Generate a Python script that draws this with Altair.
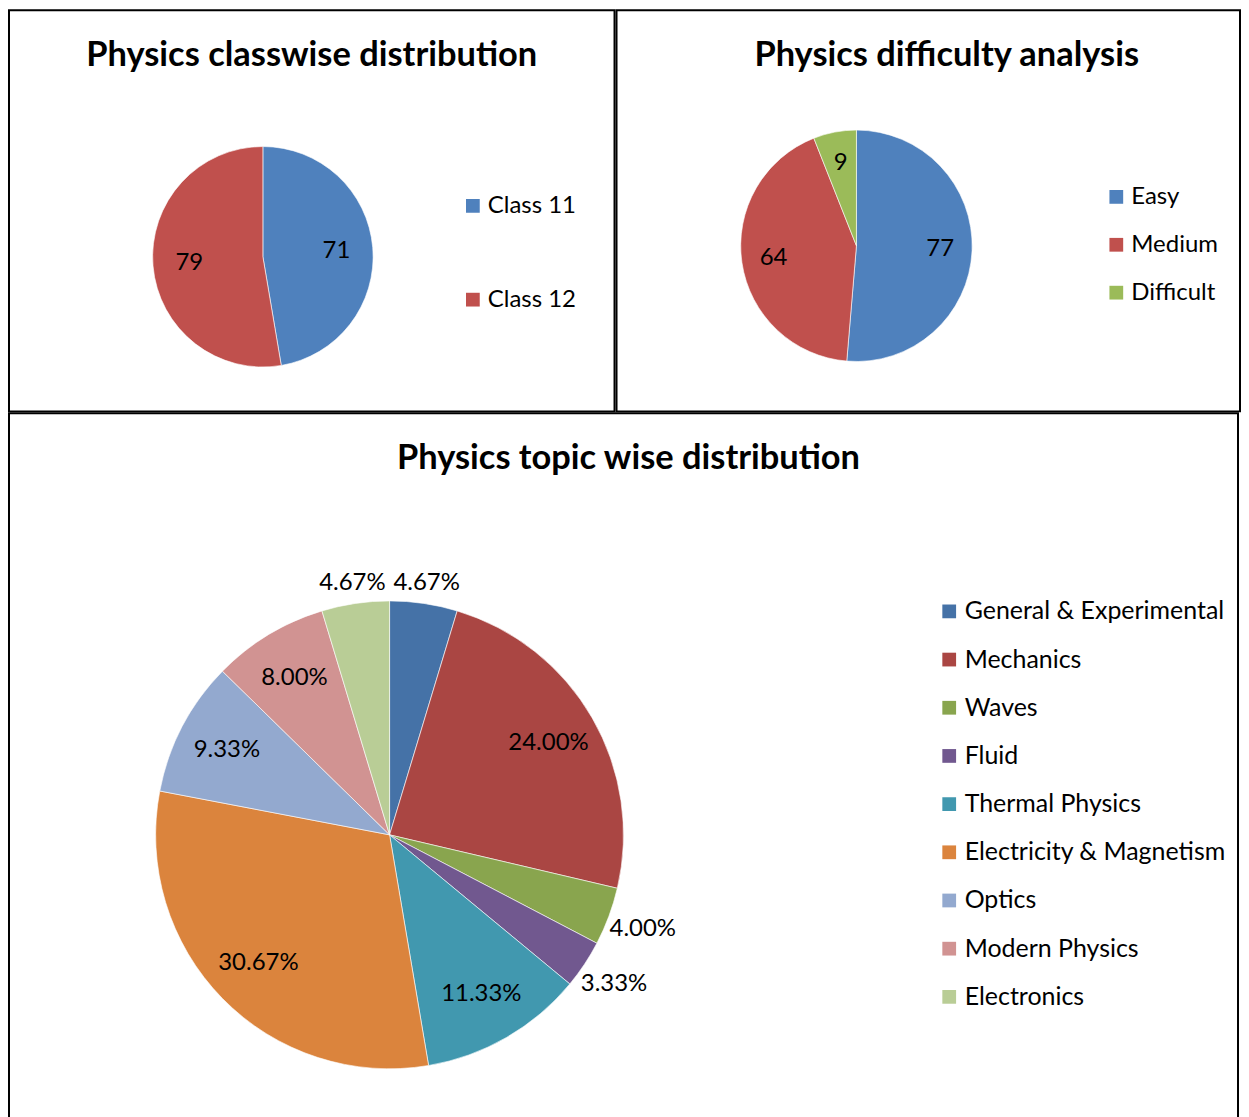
import altair as alt
import pandas as pd

# ---- data ----
class_labels = ["Class 11", "Class 12"]
class_values = [71, 79]

diff_labels = ["Easy", "Medium", "Difficult"]
diff_values = [77, 64, 9]

topic_labels = ["General & Experimental", "Mechanics", "Waves", "Fluid", "Thermal Physics",
                "Electricity & Magnetism", "Optics", "Modern Physics", "Electronics"]
topic_values = [7, 36, 6, 5, 17, 46, 14, 12, 7]

class_colors = ["#4F81BD", "#C0504D"]
diff_colors = ["#4F81BD", "#C0504D", "#9BBB59"]
topic_colors = ["#4572A7", "#AA4643", "#89A54E", "#71588F", "#4198AF",
                "#DB843D", "#93A9CF", "#D19392", "#B9CD96"]

FONT = "Lato"
LBL = 24


def pie_panel(labels, values, colors, title, w, h, cx, cy, R, r_in, thresh,
              lx, ly, row_pad, leg_fs, title_x, title_y, pct_fmt):
    df = pd.DataFrame({"cat": labels, "value": values, "idx": list(range(len(labels)))})
    legend = alt.Legend(
        title=None, orient="none", legendX=lx, legendY=ly,
        symbolType="square", symbolSize=190, symbolStrokeWidth=0,
        labelFont=FONT, labelFontSize=leg_fs, labelColor="black", labelOffset=3,
        rowPadding=row_pad, labelLimit=500,
    )
    arc = alt.Chart(df).mark_arc(outerRadius=R, stroke="white", strokeWidth=0.6).encode(
        theta=alt.Theta("value:Q", stack=True),
        order=alt.Order("idx:Q"),
        x=alt.value(cx), y=alt.value(cy),
        color=alt.Color("cat:N", sort=labels,
                        scale=alt.Scale(domain=labels, range=colors), legend=legend),
    )
    text = alt.Chart(df).transform_joinaggregate(
        total="sum(value)"
    ).transform_window(
        cum="sum(value)", sort=[alt.SortField("idx")], frame=[None, 0]
    ).transform_calculate(
        pct="datum.value / datum.total",
        mid="(datum.cum - datum.value / 2) / datum.total * 2 * PI",
    ).transform_calculate(
        lr=f"datum.pct >= {thresh} ? {r_in} : {R} + 4 + 30 * abs(sin(datum.mid)) + 12 * abs(cos(datum.mid))"
    ).transform_calculate(
        px=f"{cx} + datum.lr * sin(datum.mid)",
        py=f"{cy} - datum.lr * cos(datum.mid)",
    ).mark_text(font=FONT, fontSize=LBL, color="black").encode(
        x=alt.X("px:Q", scale=None, axis=None),
        y=alt.Y("py:Q", scale=None, axis=None),
        text=alt.Text("pct:Q", format=".2%") if pct_fmt else alt.Text("value:Q"),
    )
    ttl = alt.Chart(pd.DataFrame({"t": [title]})).mark_text(
        font=FONT, fontSize=34.5, fontWeight="bold", color="black"
    ).encode(text="t:N", x=alt.value(title_x), y=alt.value(title_y))
    return alt.layer(arc, text, ttl).properties(width=w, height=h)


p1 = pie_panel(class_labels, class_values, class_colors, "Physics classwise distribution",
               607, 402, 254.5, 247, 110.5, 74, 0, 453, 184, 70, 24, 303.5, 46, False)
p2 = pie_panel(diff_labels, diff_values, diff_colors, "Physics difficulty analysis",
               625, 402, 240.5, 236, 116, 84, 0, 489, 175, 24, 24, 331, 46, False)
p3 = pie_panel(topic_labels, topic_values, topic_colors, "Physics topic wise distribution",
               1232, 709, 381.5, 422.5, 234.5, 184, 0.06, 930, 186, 22.3, 25, 621, 46, True)

top = alt.hconcat(p1, p2, spacing=0).resolve_scale(color="independent").resolve_legend(color="independent")
chart = alt.vconcat(top, p3, spacing=0).resolve_scale(color="independent").resolve_legend(
    color="independent"
).properties(padding=0).configure(background="white").configure_view(
    stroke="black", strokeWidth=2
)

chart.save("out.html", embed_options={"renderer": "svg", "actions": False})
